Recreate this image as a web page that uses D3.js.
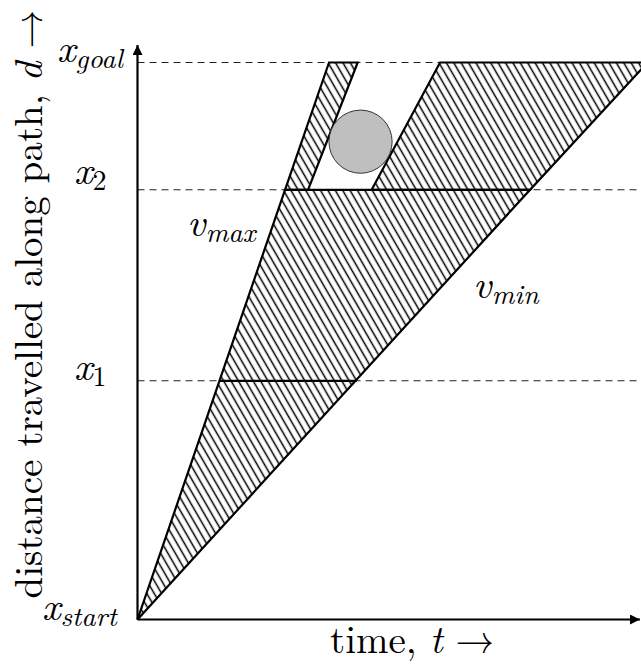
<!DOCTYPE html>
<html>
<head>
<meta charset="utf-8">
<script src="https://cdn.jsdelivr.net/npm/d3@7"></script>
<style>
  body { margin: 0; background: #fff; }
  svg { display: block; }
</style>
</head>
<body>
<svg id="chart"></svg>
<script>
// distance levels along the path (path units)
const levelNames = ["start", "1", "2", "goal"];
const levelValues = [0, 3.0, 5.4, 7.0];

// reachable regions, corners as [time, distance]
const lowerRegion = [[0, 0], [1.854, 5.4], [4.933, 5.4]];
const leftRegion = [[1.854, 5.4], [2.407, 7.0], [2.767, 7.0], [2.143, 5.4]];
const rightRegion = [[2.943, 5.4], [3.802, 7.0], [6.41, 7.0], [4.933, 5.4]];
const x1Segment = [[1.028, 3.0], [2.755, 3.0]];

// obstacle in the time/distance plane
const obstacleT = 2.803;
const obstacleD = 6.005;
const obstacleR = 0.397;

// speed bound labels: [name, time, distance]
const speedLabels = [["max", 0.622, 4.82], ["min", 4.216, 4.04]];

const width = 641, height = 666;
const margin = {top: 45, right: 1, bottom: 46.5, left: 137.5};

const svg = d3.select("#chart")
    .attr("width", width)
    .attr("height", height);

const t = d3.scaleLinear()
    .domain([0, 6.315])
    .range([margin.left, width - margin.right]);

const d = d3.scaleLinear()
    .domain([0, 7.22])
    .range([height - margin.bottom, margin.top]);

const font = "Latin Modern Roman";
const fs = 39;     // axis titles
const labelFs = 40; // math labels

// hatch pattern (lines running top-left to bottom-right)
const defs = svg.append("defs");
const pat = defs.append("pattern")
    .attr("id", "hatch")
    .attr("patternUnits", "userSpaceOnUse")
    .attr("width", 6.4)
    .attr("height", 20)
    .attr("patternTransform", "rotate(-30)");
pat.append("line")
    .attr("x1", 3.2).attr("y1", -2)
    .attr("x2", 3.2).attr("y2", 22)
    .attr("stroke", "#000")
    .attr("stroke-width", 1.5);

defs.append("marker")
    .attr("id", "arrow")
    .attr("viewBox", "0 0 10 10")
    .attr("refX", 10).attr("refY", 5)
    .attr("markerUnits", "userSpaceOnUse")
    .attr("markerWidth", 14).attr("markerHeight", 10)
    .attr("orient", "auto")
    .append("path")
    .attr("d", "M0,0 L10,5 L0,10 Z")
    .attr("fill", "#000");

// dashed level lines
svg.append("g")
    .selectAll("line")
    .data(levelValues.slice(1))
    .join("line")
    .attr("x1", t(0))
    .attr("x2", t(6.6))
    .attr("y1", v => d(v))
    .attr("y2", v => d(v))
    .attr("stroke", "#222")
    .attr("stroke-width", 1.1)
    .attr("stroke-dasharray", "7,5");

const poly = d3.line().x(p => t(p[0])).y(p => d(p[1]));

// hatched regions
svg.append("g")
    .selectAll("path")
    .data([lowerRegion, leftRegion, rightRegion])
    .join("path")
    .attr("d", p => poly(p) + "Z")
    .attr("fill", "url(#hatch)")
    .attr("stroke", "#000")
    .attr("stroke-width", 2.2)
    .attr("stroke-linejoin", "miter");

svg.append("path")
    .attr("d", poly(x1Segment))
    .attr("stroke", "#000")
    .attr("stroke-width", 2.2);

// obstacle
svg.append("circle")
    .attr("cx", t(obstacleT))
    .attr("cy", d(obstacleD))
    .attr("r", t(obstacleR) - t(0))
    .attr("fill", "#bfbfbf")
    .attr("stroke", "#333")
    .attr("stroke-width", 1);

// axes
svg.append("line")
    .attr("x1", t(0)).attr("y1", d(0))
    .attr("x2", t(6.315)).attr("y2", d(0))
    .attr("stroke", "#000")
    .attr("stroke-width", 2.2)
    .attr("marker-end", "url(#arrow)");

svg.append("line")
    .attr("x1", t(0)).attr("y1", d(0))
    .attr("x2", t(0)).attr("y2", d(7.22))
    .attr("stroke", "#000")
    .attr("stroke-width", 2.2)
    .attr("marker-end", "url(#arrow)");

// math-style label: italic main letter with a subscript
function mathLabel(g, main, sub, x, y) {
    const txt = g.append("text")
        .attr("x", x)
        .attr("y", y)
        .style("font-family", font)
        .style("font-size", labelFs + "px");
    txt.append("tspan").style("font-style", "italic").text(main);
    txt.append("tspan")
        .style("font-size", Math.round(labelFs * 0.7) + "px")
        .attr("dy", 6)
        .style("font-style", /^\d+$/.test(sub) ? "normal" : "italic")
        .text(sub);
    return txt;
}

const labels = svg.append("g");
const levelLabelX = [42, 74, 74, 57];
const levelOffsets = [0.5, -0.7, -6, -0.3];
levelNames.forEach((n, i) => {
    mathLabel(labels, "x", n, levelLabelX[i], d(levelValues[i]) + levelOffsets[i]);
});

speedLabels.forEach(s => {
    mathLabel(labels, "v", s[0], t(s[1]), d(s[2]));
});

// axis titles
const xTitle = svg.append("text")
    .attr("x", 330)
    .attr("y", 653)
    .style("font-family", font)
    .style("font-size", fs + "px");
xTitle.append("tspan").text("time, ");
xTitle.append("tspan").style("font-style", "italic").text("t");
xTitle.append("tspan").text(" →");

const yTitle = svg.append("text")
    .attr("transform", "translate(42,304) rotate(-90)")
    .attr("text-anchor", "middle")
    .style("font-family", font)
    .style("font-size", fs + "px");
yTitle.append("tspan").text("distance travelled along path, ");
yTitle.append("tspan").style("font-style", "italic").text("d");
yTitle.append("tspan").text(" →");
</script>
</body>
</html>
